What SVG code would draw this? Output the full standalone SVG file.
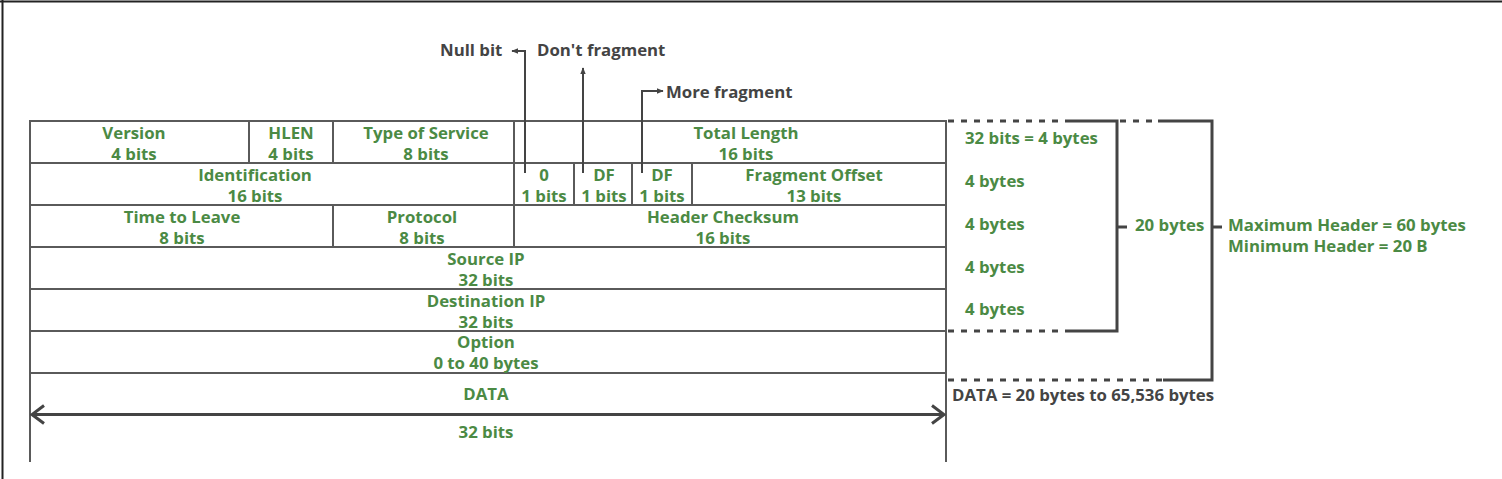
<svg xmlns="http://www.w3.org/2000/svg" width="1502" height="479" viewBox="0 0 1502 479">
<defs>
<style>
.g{fill:#4b8a44;font-family:"Open Sans",sans-serif;font-weight:700;font-size:16.8px;text-anchor:middle}
.gl{text-anchor:start}
.d{fill:#444;font-family:"Open Sans",sans-serif;font-weight:700;font-size:16.8px}
.cell{fill:#fff;stroke:#5a5a5a;stroke-width:2}
.ln{stroke:#5a5a5a;stroke-width:2;fill:none}
.br{stroke:#444;stroke-width:3;fill:none}
.dot{stroke:#444;stroke-width:3;stroke-dasharray:6 7;fill:none}
.con{stroke:#444;stroke-width:2;fill:none}
.frame{stroke:#222;stroke-width:2;fill:none}
</style>
<marker id="ah" viewBox="0 0 10 10" refX="9" refY="5" markerWidth="7" markerHeight="7" markerUnits="userSpaceOnUse" orient="auto">
<path d="M0,1 L10,5 L0,9 z" fill="#444"/>
</marker>
<marker id="chev" viewBox="0 0 15 22" refX="13" refY="11" markerWidth="15" markerHeight="22" markerUnits="userSpaceOnUse" orient="auto-start-reverse">
<path d="M1,2 L13,11 L1,20" fill="none" stroke="#444" stroke-width="3"/>
</marker>
</defs>
<rect width="1502" height="479" fill="#fff"/>
<path class="frame" d="M0,1.5 H1502 M2.5,0 V479"/>

<g id="version"><rect class="cell" x="30" y="121" width="219" height="42"/><text class="g" x="134" y="138.5">Version</text><text class="g" x="134" y="159.5">4 bits</text></g>
<g id="hlen"><rect class="cell" x="249" y="121" width="84" height="42"/><text class="g" x="291" y="138.5">HLEN</text><text class="g" x="291" y="159.5">4 bits</text></g>
<g id="tos"><rect class="cell" x="333" y="121" width="181" height="42"/><text class="g" x="426" y="138.5">Type of Service</text><text class="g" x="426" y="159.5">8 bits</text></g>
<g id="total-length"><rect class="cell" x="514" y="121" width="432" height="42"/><text class="g" x="746" y="138.5">Total Length</text><text class="g" x="746" y="159.5">16 bits</text></g>

<g id="identification"><rect class="cell" x="30" y="163" width="484" height="42"/><text class="g" x="255" y="180.5">Identification</text><text class="g" x="255" y="201.5">16 bits</text></g>
<g id="null-bit"><rect class="cell" x="514" y="163" width="60" height="42"/><text class="g" x="544" y="180.5">0</text><text class="g" x="544" y="201.5">1 bits</text></g>
<g id="df"><rect class="cell" x="574" y="163" width="58" height="42"/><text class="g" x="604" y="180.5">DF</text><text class="g" x="604" y="201.5">1 bits</text></g>
<g id="mf"><rect class="cell" x="632" y="163" width="60" height="42"/><text class="g" x="662" y="180.5">DF</text><text class="g" x="662" y="201.5">1 bits</text></g>
<g id="fragment-offset"><rect class="cell" x="692" y="163" width="254" height="42"/><text class="g" x="814" y="180.5">Fragment Offset</text><text class="g" x="814" y="201.5">13 bits</text></g>

<g id="ttl"><rect class="cell" x="30" y="205" width="303" height="42"/><text class="g" x="182" y="222.5">Time to Leave</text><text class="g" x="182" y="243.5">8 bits</text></g>
<g id="protocol"><rect class="cell" x="333" y="205" width="181" height="42"/><text class="g" x="422" y="222.5">Protocol</text><text class="g" x="422" y="243.5">8 bits</text></g>
<g id="checksum"><rect class="cell" x="514" y="205" width="432" height="42"/><text class="g" x="723" y="222.5">Header Checksum</text><text class="g" x="723" y="243.5">16 bits</text></g>

<g id="source-ip"><rect class="cell" x="30" y="247" width="916" height="42"/><text class="g" x="486" y="264.5">Source IP</text><text class="g" x="486" y="285.5">32 bits</text></g>
<g id="destination-ip"><rect class="cell" x="30" y="289" width="916" height="42"/><text class="g" x="486" y="306.5">Destination IP</text><text class="g" x="486" y="327.5">32 bits</text></g>
<g id="option"><rect class="cell" x="30" y="331" width="916" height="42"/><text class="g" x="486" y="347.5">Option</text><text class="g" x="486" y="368.5">0 to 40 bytes</text></g>
<g id="data"><path class="ln" d="M30,373 V462 M946,373 V462"/><text class="g" x="486" y="400">DATA</text><text class="g" x="486" y="438">32 bits</text></g>

<g id="labels">
<text class="d" x="440" y="56">Null bit</text>
<text class="d" x="537" y="56">Don't fragment</text>
<text class="d" x="666" y="98">More fragment</text>
<text class="g gl" x="965" y="144">32 bits = 4 bytes</text>
<text class="g gl" x="965" y="187">4 bytes</text>
<text class="g gl" x="965" y="230">4 bytes</text>
<text class="g gl" x="965" y="272.5">4 bytes</text>
<text class="g gl" x="965" y="315">4 bytes</text>
<text class="g gl" x="1135" y="231">20 bytes</text>
<text class="g gl" x="1228" y="231">Maximum Header = 60 bytes</text>
<text class="g gl" x="1228" y="252">Minimum Header = 20 B</text>
<text class="d" x="952" y="401">DATA = 20 bytes to 65,536 bytes</text>
</g>

<g id="connectors">
<path class="con" d="M525,173 V51 H512" marker-end="url(#ah)"/>
<path class="con" d="M583,173 V68" marker-end="url(#ah)"/>
<path class="con" d="M642,173 V91 H663" marker-end="url(#ah)"/>
<path class="dot" d="M948,121 H1066 M948,331 H1066"/>
<path class="br" d="M1066,121 H1117 V331 H1066 M1117,227 H1127"/>
<path class="dot" d="M1120,121 H1158 M948,380 H1163"/>
<path class="br" d="M1158,121 H1212 V380 H1163 M1212,227 H1222"/>
<path class="br" d="M32,414.5 H944" marker-start="url(#chev)" marker-end="url(#chev)"/>
</g>
</svg>
